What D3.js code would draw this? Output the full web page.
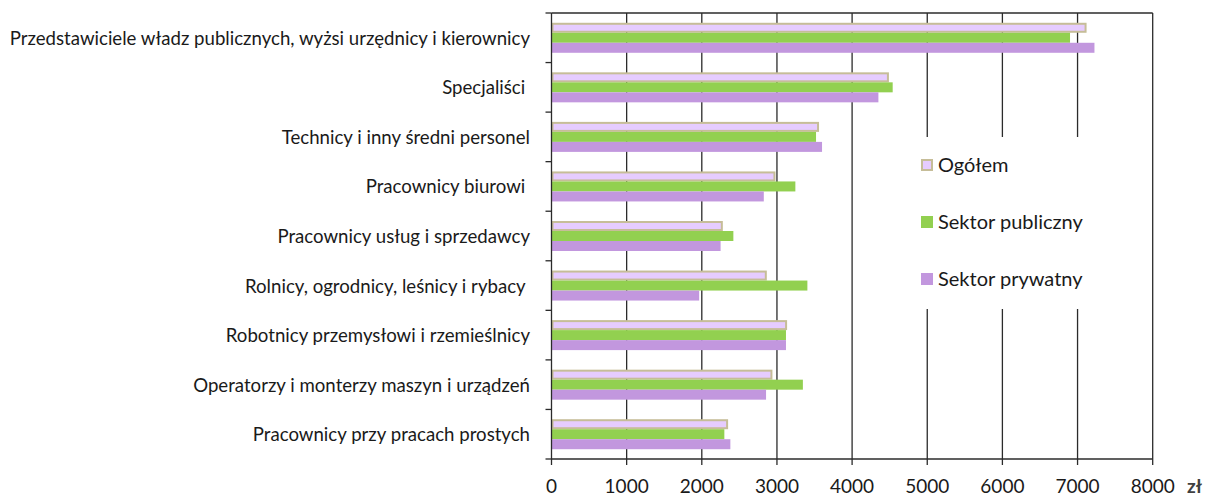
<!DOCTYPE html>
<html>
<head>
<meta charset="utf-8">
<script src="https://cdn.jsdelivr.net/npm/d3@7"></script>
<style>
	body { margin: 0; background: #fff; }
	svg text { font-family: Lato, "DejaVu Sans", sans-serif; fill: #1a1a1a; }
</style>
</head>
<body>
<svg id="plot" width="1207" height="497"></svg>
<script>

const CATEGORIES = [
	'Przedstawiciele władz publicznych, wyżsi urzędnicy i kierownicy',
	'Specjaliści ',
	'Technicy i inny średni personel',
	'Pracownicy biurowi ',
	'Pracownicy usług i sprzedawcy',
	'Rolnicy, ogrodnicy, leśnicy i rybacy ',
	'Robotnicy przemysłowi i rzemieślnicy',
	'Operatorzy i monterzy maszyn i urządzeń',
	'Pracownicy przy pracach prostych'
];
const SERIES = ['Ogółem', 'Sektor publiczny', 'Sektor prywatny'];
const OGOLEM = [7120, 4490, 3560, 2980, 2280, 2865, 3135, 2940, 2350];
const PUBLICZNY = [6900, 4540, 3520, 3245, 2420, 3405, 3120, 3345, 2300];
const PRYWATNY = [7225, 4350, 3600, 2825, 2250, 1965, 3120, 2855, 2380];
const X_TICKS = [0, 1000, 2000, 3000, 4000, 5000, 6000, 7000, 8000];
const UNIT = 'zł';

const COLORS = ['#E6CCFF', '#92D050', '#C297DE'];

function whenDocumentLoaded(action) {
	if (document.readyState === "loading") {
		document.addEventListener("DOMContentLoaded", action);
	} else {
		action();
	}
}

function drawChart(html_id) {
	const left = 551.5, right = 1152.7, top = 13, bottom = 459;
	const values = [OGOLEM, PUBLICZNY, PRYWATNY];

	const x = d3.scaleLinear().domain([0, 8000]).range([left, right]);
	const y = d3.scaleBand().domain(CATEGORIES).range([top, bottom]).padding(0);
	const step = y.bandwidth();
	const ySub = d3.scaleBand().domain(SERIES).range([(step - 30) / 2, (step + 30) / 2]);

	const svg = d3.select(`#${html_id}`);

	// grid lines
	svg.append('g').selectAll('line')
		.data(X_TICKS.slice(1))
		.enter().append('line')
		.attr('x1', (d) => x(d)).attr('x2', (d) => x(d))
		.attr('y1', top).attr('y2', bottom)
		.attr('stroke', '#2b2b2b').attr('stroke-width', 1.3);

	// top border
	svg.append('line')
		.attr('x1', left).attr('x2', right)
		.attr('y1', top).attr('y2', top)
		.attr('stroke', '#2b2b2b').attr('stroke-width', 1.3);

	// legend box hides grid lines
	svg.append('rect')
		.attr('x', 912).attr('y', 137)
		.attr('width', 200).attr('height', 172)
		.attr('fill', '#fff');

	// bars
	const rows = CATEGORIES.map((c, i) => ({ cat: c, vals: values.map((v) => v[i]) }));
	const groups = svg.append('g').selectAll('g')
		.data(rows)
		.enter().append('g')
		.attr('transform', (d) => `translate(0,${y(d.cat)})`);

	groups.selectAll('rect')
		.data((d) => d.vals.map((v, k) => ({ v: v, s: SERIES[k], k: k })))
		.enter().append('rect')
		.attr('x', (d) => d.k === 0 ? x(0) + 1 : x(0))
		.attr('y', (d) => d.k === 0 ? ySub(d.s) + 1 : ySub(d.s))
		.attr('width', (d) => d.k === 0 ? x(d.v) - x(0) - 2 : x(d.v) - x(0))
		.attr('height', (d) => d.k === 0 ? ySub.bandwidth() - 2 : ySub.bandwidth())
		.attr('fill', (d) => COLORS[d.k])
		.attr('stroke', (d) => d.k === 0 ? '#C6BD98' : 'none')
		.attr('stroke-width', 2);

	// y axis
	const yAxis = svg.append('g')
		.attr('transform', `translate(${left},0)`);
	yAxis.append('line')
		.attr('x1', 0).attr('x2', 0).attr('y1', top).attr('y2', bottom)
		.attr('stroke', '#2b2b2b').attr('stroke-width', 1.3);
	yAxis.selectAll('.tick')
		.data(d3.range(CATEGORIES.length + 1))
		.enter().append('line')
		.attr('x1', -6).attr('x2', 0)
		.attr('y1', (i) => top + i * step).attr('y2', (i) => top + i * step)
		.attr('stroke', '#2b2b2b').attr('stroke-width', 1.3);

	const labels = svg.append('g').selectAll('text')
		.data(CATEGORIES)
		.enter().append('text')
		.attr('x', 530)
		.attr('y', (d) => y(d) + step / 2 + 7)
		.attr('text-anchor', 'end')
		.attr('font-size', 20)
		.style('white-space', 'pre')
		.text((d) => d);

	// fit the longest label into the space the reference gives it
	const widest = d3.max(labels.nodes(), (n) => n.getComputedTextLength());
	const labelSize = Math.min(20, 20 * 521 / widest);
	labels.attr('font-size', labelSize);

	// x axis
	const xAxis = svg.append('g');
	xAxis.append('line')
		.attr('x1', left).attr('x2', right).attr('y1', bottom).attr('y2', bottom)
		.attr('stroke', '#2b2b2b').attr('stroke-width', 1.3);
	xAxis.selectAll('.tick')
		.data(X_TICKS)
		.enter().append('line')
		.attr('x1', (d) => x(d)).attr('x2', (d) => x(d))
		.attr('y1', bottom).attr('y2', bottom + 6)
		.attr('stroke', '#2b2b2b').attr('stroke-width', 1.3);
	xAxis.selectAll('text')
		.data(X_TICKS)
		.enter().append('text')
		.attr('x', (d) => x(d))
		.attr('y', 493)
		.attr('text-anchor', 'middle')
		.attr('font-size', 19)
		.text((d) => `${d}`);

	svg.append('text')
		.attr('x', 1187).attr('y', 493)
		.attr('font-size', 19).attr('font-weight', 'bold')
		.style('fill', '#404040')
		.text(UNIT);

	// legend
	const legend = svg.append('g').selectAll('g')
		.data(SERIES)
		.enter().append('g')
		.attr('transform', (d, i) => `translate(921,${159 + i * 57})`);
	legend.append('rect')
		.attr('x', (d, i) => i === 0 ? 1 : 0)
		.attr('y', (d, i) => i === 0 ? 1 : 0)
		.attr('width', (d, i) => i === 0 ? 10 : 12)
		.attr('height', (d, i) => i === 0 ? 10 : 12)
		.attr('fill', (d, i) => COLORS[i])
		.attr('stroke', (d, i) => i === 0 ? '#C6BD98' : 'none')
		.attr('stroke-width', 2);
	legend.append('text')
		.attr('x', 17).attr('y', 13)
		.attr('font-size', 20)
		.text((d) => d);
}

whenDocumentLoaded(() => {
	drawChart('plot');
});
</script>
</body>
</html>
